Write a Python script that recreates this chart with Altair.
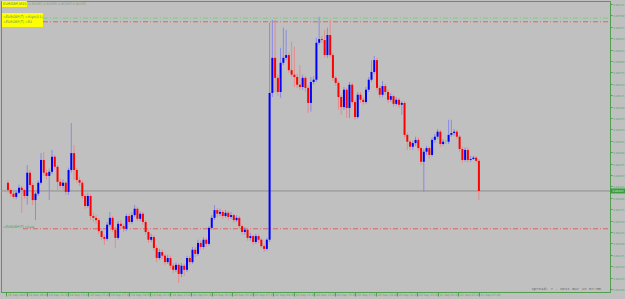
import altair as alt
import pandas as pd

# ---------------- data (prices in points, 1 point = 0.00001) ----------------
first_open = 86333
closes = [
    86317, 86309, 86302, 86311, 86322, 86317, 86304, 86355, 86328, 86295,
    86309, 86333, 86383, 86355, 86348, 86357, 86390, 86368, 86335, 86326,
    86333, 86313, 86361, 86398, 86361, 86339, 86333, 86304, 86282, 86304,
    86260, 86256, 86251, 86227, 86214, 86210, 86241, 86256, 86230, 86212,
    86243, 86238, 86232, 86260, 86247, 86262, 86276, 86254, 86265, 86247,
    86225, 86208, 86214, 86190, 86168, 86181, 86173, 86159, 86168, 86151,
    86142, 86153, 86133, 86151, 86142, 86168, 86159, 86186, 86177, 86201,
    86192, 86208, 86199, 86234, 86256, 86273, 86265, 86269, 86260, 86267,
    86258, 86262, 86251, 86256, 86238, 86225, 86230, 86212, 86216, 86203,
    86216, 86208, 86194, 86188, 86208, 86530, 86607, 86563, 86532, 86596,
    86607, 86613, 86580, 86570, 86565, 86548, 86543, 86563, 86541, 86508,
    86554, 86559, 86640, 86648, 86646, 86613, 86657, 86613, 86563, 86552,
    86521, 86499, 86537, 86497, 86548, 86510, 86477, 86526, 86515, 86510,
    86537, 86559, 86576, 86602, 86541, 86526, 86545, 86532, 86515, 86523,
    86506, 86515, 86504, 86508, 86438, 86423, 86412, 86420, 86427, 86409,
    86379, 86401, 86409, 86394, 86427, 86434, 86445, 86418, 86423, 86423,
    86438, 86442, 86445, 86434, 86407, 86383, 86405, 86383, 86385, 86388,
    86381, 86315,
]
highs = [
    86338, 86320, 86314, 86316, 86329, 86326, 86320, 86372, 86361, 86333,
    86313, 86338, 86398, 86401, 86362, 86364, 86405, 86394, 86372, 86342,
    86340, 86337, 86366, 86464, 86416, 86366, 86346, 86338, 86309, 86311,
    86309, 86267, 86262, 86256, 86232, 86219, 86247, 86269, 86260, 86236,
    86249, 86251, 86243, 86265, 86265, 86269, 86284, 86280, 86271, 86269,
    86251, 86230, 86221, 86219, 86195, 86188, 86186, 86177, 86175, 86173,
    86157, 86159, 86157, 86157, 86155, 86173, 86173, 86192, 86192, 86208,
    86206, 86214, 86212, 86238, 86262, 86284, 86278, 86276, 86273, 86273,
    86271, 86269, 86265, 86262, 86260, 86241, 86236, 86234, 86223, 86219,
    86221, 86219, 86212, 86199, 86212, 86684, 86690, 86690, 86570, 86629,
    86673, 86668, 86618, 86642, 86631, 86572, 86591, 86570, 86567, 86546,
    86565, 86567, 86651, 86697, 86655, 86668, 86673, 86690, 86618, 86567,
    86556, 86526, 86543, 86541, 86554, 86552, 86515, 86532, 86532, 86521,
    86543, 86565, 86602, 86611, 86607, 86546, 86556, 86550, 86537, 86530,
    86526, 86521, 86519, 86512, 86512, 86443, 86427, 86425, 86434, 86432,
    86412, 86407, 86414, 86412, 86432, 86440, 86451, 86449, 86429, 86427,
    86471, 86471, 86451, 86449, 86438, 86412, 86410, 86410, 86392, 86392,
    86392, 86385,
]
lows = [
    86311, 86303, 86298, 86297, 86308, 86267, 86298, 86285, 86322, 86284,
    86251, 86304, 86329, 86348, 86340, 86295, 86352, 86362, 86317, 86320,
    86318, 86306, 86306, 86355, 86339, 86333, 86326, 86298, 86276, 86278,
    86251, 86247, 86243, 86221, 86208, 86197, 86206, 86236, 86225, 86190,
    86208, 86232, 86225, 86227, 86241, 86243, 86258, 86249, 86249, 86241,
    86219, 86201, 86203, 86184, 86159, 86164, 86166, 86153, 86155, 86144,
    86135, 86137, 86113, 86126, 86129, 86137, 86153, 86155, 86170, 86173,
    86186, 86188, 86192, 86195, 86230, 86251, 86258, 86260, 86254, 86256,
    86251, 86254, 86245, 86247, 86232, 86219, 86219, 86206, 86206, 86197,
    86199, 86201, 86190, 86181, 86184, 86203, 86521, 86532, 86524, 86519,
    86591, 86602, 86574, 86565, 86543, 86541, 86537, 86537, 86532, 86486,
    86489, 86548, 86554, 86635, 86640, 86607, 86607, 86607, 86556, 86546,
    86493, 86482, 86493, 86475, 86475, 86504, 86471, 86473, 86508, 86504,
    86506, 86532, 86554, 86572, 86535, 86519, 86521, 86526, 86508, 86510,
    86499, 86502, 86497, 86482, 86432, 86405, 86405, 86405, 86414, 86403,
    86372, 86313, 86394, 86385, 86390, 86421, 86429, 86412, 86414, 86418,
    86418, 86434, 86436, 86429, 86401, 86377, 86379, 86377, 86379, 86383,
    86377, 86295,
]
price_ticks = [86725, 86700, 86675, 86650, 86625, 86600, 86575, 86550, 86525,
               86500, 86475, 86450, 86425, 86400, 86375, 86350, 86325, 86300,
               86275, 86250, 86225, 86200, 86175, 86150, 86125, 86100]
time_labels = ["19 Sep 2023", "19 Sep 09:00", "19 Sep 11:00", "19 Sep 13:00",
               "19 Sep 15:00", "19 Sep 17:00", "19 Sep 19:00", "19 Sep 21:00",
               "19 Sep 23:00", "20 Sep 01:00", "20 Sep 03:00", "20 Sep 05:00",
               "20 Sep 07:00", "20 Sep 09:00", "20 Sep 11:00", "20 Sep 13:00",
               "20 Sep 15:00", "20 Sep 17:00", "20 Sep 19:00", "20 Sep 21:00",
               "20 Sep 23:00", "21 Sep 01:00", "21 Sep 03:00", "21 Sep 05:00"]
level_values = [86694, 86686, 86232]
level_colors = ["#7ccf7c", "#e06060", "#e06060"]
level_starts = [42, 42, 22]
symbol = "EURGBP,M15"
info_lines = ["=EURGBP(T) =High(D1)", "=EURGBP(T) =R1"]
low_label = "=EURGBP(T) =Low"
status_text = "Spread: 7  .  Next Bar in 07:55"

# ---------------- tables ----------------
opens = [first_open] + closes[:-1]
n = len(closes)
df = pd.DataFrame({
    "i": list(range(n)),
    "open": opens, "close": closes, "high": highs, "low": lows,
})
df["body_c"] = ["#0000ff" if c > o else ("#ff0000" if c < o else "#5fbf5f") for o, c in zip(opens, closes)]
df["wick_c"] = ["#8a8ae6" if c > o else ("#e68a8a" if c < o else "#7fbf7f") for o, c in zip(opens, closes)]

GREEN = "#4f9f4f"
LABEL_GREEN = "#5aa85a"
BARS_PER_LABEL = 7.464
X0 = -0.714
tick_vals = [round(X0 + BARS_PER_LABEL * k, 3) for k in range(len(time_labels))]
lab_arr = "[" + ",".join("'" + t + "'" for t in time_labels) + "]"

xs = alt.Scale(domain=[X0, 216.786], nice=False, zero=False)
ys = alt.Scale(domain=[86093.4, 86731.6], nice=False, zero=False)

x_axis = alt.Axis(values=tick_vals,
                  labelExpr=lab_arr + "[round((datum.value - (" + str(X0) + ")) / " + str(BARS_PER_LABEL) + ")]",
                  orient="bottom", grid=False, title=None, domainColor=GREEN, tickColor=GREEN,
                  tickSize=4, labelFontSize=3.0, labelColor=LABEL_GREEN, labelAlign="left",
                  labelBaseline="top", labelPadding=-2.5, labelOffset=1.2, labelOverlap=False,
                  labelFlush=False, labelFont="DejaVu Sans")
y_axis = alt.Axis(values=price_ticks, labelExpr="format(datum.value / 100000, '.5f')",
                  orient="right", grid=False, title=None, domainColor=GREEN, tickColor=GREEN,
                  tickSize=2, labelFontSize=2.7, labelColor=LABEL_GREEN, labelPadding=0.8,
                  labelOverlap=False, labelFlush=False, labelFont="DejaVu Sans")

X = alt.X("i:Q", scale=xs, axis=x_axis)

wicks = alt.Chart(df).mark_rule(strokeWidth=1).encode(
    x=X, y=alt.Y("low:Q", scale=ys, axis=y_axis), y2="high:Q",
    color=alt.Color("wick_c:N", scale=None))
bodies = alt.Chart(df).mark_bar(size=2).encode(
    x=X, y=alt.Y("open:Q", scale=ys, axis=y_axis), y2="close:Q",
    color=alt.Color("body_c:N", scale=None))

# current price line and label
last = pd.DataFrame({"p": [closes[-1]], "lo": [closes[-1] - 5.5], "hi": [closes[-1] + 5.5],
                     "t": [f"{closes[-1] / 100000:.5f}"]})
bid_line = alt.Chart(last).mark_rule(color="#8e8e8e", strokeWidth=1).encode(
    y=alt.Y("p:Q", scale=ys, axis=y_axis))
bid_box = alt.Chart(last).mark_rect(color="#3a9e3a").encode(
    x=alt.value(609), x2=alt.value(624), y=alt.Y("hi:Q", scale=ys, axis=y_axis), y2="lo:Q")
bid_text = alt.Chart(last).mark_text(align="left", baseline="middle", fontSize=2.7,
                                     color="#d0f4d0", font="DejaVu Sans").encode(
    x=alt.value(611.5), y=alt.Y("p:Q", scale=ys, axis=y_axis), text="t:N")

# level lines
lv = pd.DataFrame({"v": level_values, "c": level_colors, "x0": level_starts})
levels = alt.Chart(lv).mark_rule(strokeWidth=1, strokeDash=[5, 2, 1, 2]).encode(
    y=alt.Y("v:Q", scale=ys, axis=y_axis),
    x=alt.value(42), x2=alt.value(609),
    color=alt.Color("c:N", scale=None))
levels_lo = alt.Chart(lv.iloc[[2]]).mark_rule(strokeWidth=1, strokeDash=[5, 2, 1, 2], color="#e06060").encode(
    y=alt.Y("v:Q", scale=ys, axis=y_axis), x=alt.value(22), x2=alt.value(42))

# header
hdr = pd.DataFrame({"a": [0]})
head_box = alt.Chart(hdr).mark_rect(color="#ffff00").encode(
    x=alt.value(1), x2=alt.value(26), y=alt.value(0), y2=alt.value(6))
head_sym = alt.Chart(hdr).mark_text(align="left", baseline="middle", fontSize=3.6,
                                    color="#5b7f5b", font="DejaVu Sans").encode(
    x=alt.value(2), y=alt.value(3.2), text=alt.value(symbol))
ohlc = f"{opens[-1]/100000:.5f} {highs[-1]/100000:.5f} {lows[-1]/100000:.5f} {closes[-1]/100000:.5f}"
head_ohlc = alt.Chart(hdr).mark_text(align="left", baseline="middle", fontSize=3.3,
                                     color="#7f9a7f", font="DejaVu Sans").encode(
    x=alt.value(27.5), y=alt.value(3.2), text=alt.value(ohlc))

info_box = alt.Chart(hdr).mark_rect(color="#ffff00").encode(
    x=alt.value(1), x2=alt.value(42), y=alt.value(12), y2=alt.value(26))
info_t1 = alt.Chart(hdr).mark_text(align="left", baseline="middle", fontSize=3.3,
                                   color="#5b8f5b", font="DejaVu Sans").encode(
    x=alt.value(2), y=alt.value(15.5), text=alt.value(info_lines[0]))
info_t2 = alt.Chart(hdr).mark_text(align="left", baseline="middle", fontSize=3.3,
                                   color="#5b8f5b", font="DejaVu Sans").encode(
    x=alt.value(2), y=alt.value(21), text=alt.value(info_lines[1]))

lo_lab = alt.Chart(lv.iloc[[2]]).mark_text(align="left", baseline="bottom", fontSize=3.3,
                                           color="#3f9f3f", font="DejaVu Sans").encode(
    x=alt.value(2), y=alt.Y("v:Q", scale=ys, axis=y_axis), text=alt.value(low_label))

status = alt.Chart(hdr).mark_text(align="right", baseline="middle", fontSize=4,
                                  color="#666666", font="Liberation Mono").encode(
    x=alt.value(600), y=alt.value(287.5), text=alt.value(status_text))

chart = alt.layer(
    bid_line, levels, levels_lo, wicks, bodies, bid_box, bid_text,
    head_box, head_sym, head_ohlc, info_box, info_t1, info_t2, lo_lab, status
).properties(
    width=609, height=291,
    padding={"left": 1, "top": 1, "right": 15, "bottom": 7},
    autosize=alt.AutoSizeParams(type="none"),
    background="#c0c0c0",
).configure_view(
    stroke=GREEN, strokeWidth=1, fill="#c0c0c0"
)

chart.save("out.html", embed_options={"renderer": "svg", "actions": False})
